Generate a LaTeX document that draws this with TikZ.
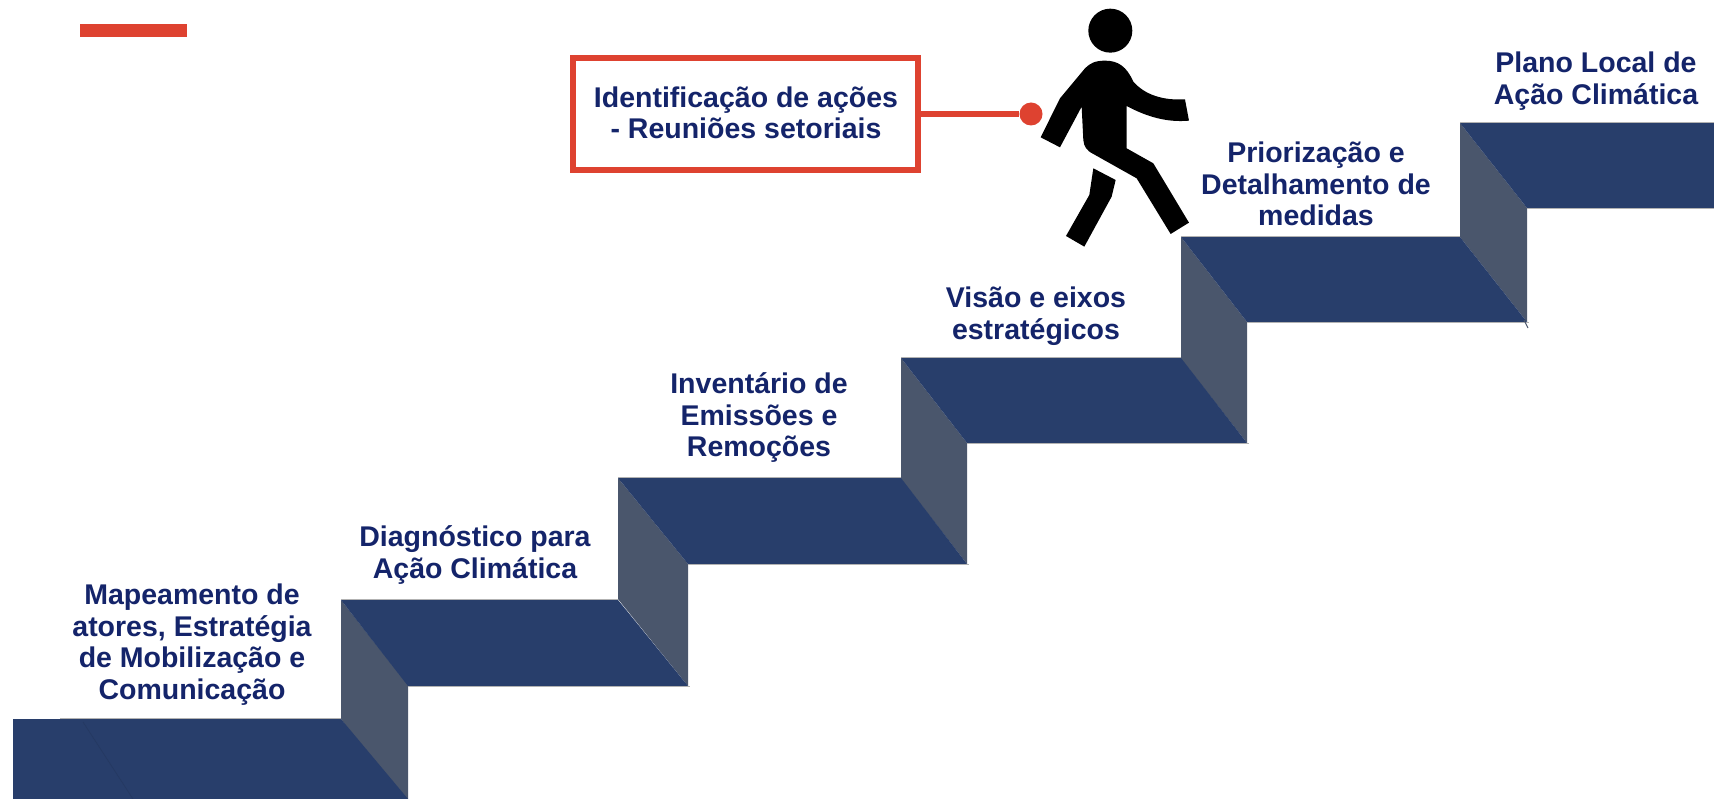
\documentclass[tikz,border=0pt]{standalone}
\usepackage{fontspec}
\setmainfont{Liberation Sans}
\definecolor{stepblue}{HTML}{283E6B}
\definecolor{riser}{HTML}{4A566C}
\definecolor{navy}{HTML}{14246A}
\definecolor{redc}{HTML}{DE4230}
\tikzset{
 tread/.style={fill=stepblue,draw=none},
 riserface/.style={fill=riser,draw=none},
 edgeline/.style={draw=black!30,line width=0.7pt},
 lbl/.style={font=\fontsize{28.5}{31.5}\selectfont\bfseries,text=navy,align=center,inner sep=0pt},
 redbox/.style={draw=redc,line width=6pt,minimum width=345pt,minimum height=112pt,inner sep=0pt,fill=white},
 reddot/.style={circle,fill=redc,minimum size=23pt,inner sep=0pt,draw=none},
 redline/.style={draw=redc,line width=5.5pt}
}
\begin{document}
\begin{tikzpicture}[x=1pt,y=-1pt]
\useasboundingbox (0,0) rectangle (1714,799);
\fill[white] (0,0) rectangle (1714,799);
% top bar
\fill[redc] (80,24) rectangle (187,37);
% risers
\fill[riserface] (341,719) -- (341,600) -- (408,685) -- (408,799) -- (400,799) -- cycle;
\fill[riserface] (618,599) -- (618,478) -- (688,564) -- (688,686) -- cycle;
\fill[riserface] (901,479) -- (901,358) -- (967,443) -- (967,564) -- cycle;
\fill[riserface] (1181,359) -- (1181,237) -- (1247,322) -- (1247,443) -- cycle;
\fill[riserface] (1460,237) -- (1460,123) -- (1527,208) -- (1527,322) -- cycle;
% treads
\fill[tread] (13,719) -- (341,719) -- (408,799) -- (13,799) -- cycle;
\fill[tread] (341,600) -- (618,600) -- (688,686) -- (408,686) -- cycle;
\fill[tread] (618,478) -- (901,478) -- (967,564) -- (688,564) -- cycle;
\fill[tread] (901,358) -- (1181,358) -- (1247,443) -- (967,443) -- cycle;
\fill[tread] (1181,237) -- (1460,237) -- (1527,322) -- (1247,322) -- cycle;
\fill[tread] (1460,123) -- (1714,123) -- (1714,208) -- (1527,208) -- cycle;
% thin edges
\draw[edgeline] (60,718.5) -- (341,718.5);
\draw[edgeline] (341,599.5) -- (618,599.5);
\draw[edgeline] (618,477.5) -- (901,477.5);
\draw[edgeline] (901,357.5) -- (1181,357.5);
\draw[edgeline] (1181,236.5) -- (1460,236.5);
\draw[edgeline] (1460,122.5) -- (1714,122.5);
\draw[edgeline] (408,686.5) -- (690,686.5);
\draw[edgeline] (688,564.5) -- (969,564.5);
\draw[edgeline] (967,443.5) -- (1249,443.5);
\draw[edgeline] (1247,322.5) -- (1529,322.5);
\draw[edgeline] (1527,208.5) -- (1714,208.5);
\draw[stepblue!92!black,line width=0.7pt] (83,722) -- (133,799);
\draw[riser,line width=1pt] (1524,320) -- (1528,328);
% person
\begin{scope}[shift={(950,0)},x=0.3333pt,y=-0.3333pt]
\fill[black] (481,92) circle (66);
\fill[black] (465,182) .. controls (435,182) and (420,190) .. (405,205)
  -- (330,295) -- (272,412) -- (330,442) -- (395,320)
  -- (400,420) .. controls (402,440) and (410,452) .. (430,462)
  -- (560,535) -- (662,702) -- (717,668) -- (610,490) -- (530,445) -- (530,318)
  .. controls (590,350) and (650,368) .. (717,362) -- (705,298)
  .. controls (640,302) and (585,285) .. (550,245)
  .. controls (530,200) and (505,182) .. (465,182) -- cycle;
\fill[black] (430,505) -- (497,540) -- (485,590) -- (403,740) -- (348,708) -- (418,585) -- cycle;
\end{scope}
% callout
\node[redbox] (box) at (745,114) {};
\node[lbl] (boxtext) at (746,113) {Identificação de ações\\- Reuniões setoriais};
\node[reddot] (dot) at (1031,114) {};
\draw[redline] (box.east) -- (dot.west);
% labels
\node[lbl] (l1) at (192,644.5) {Mapeamento de\\atores, Estratégia\\de Mobilização e\\Comunicação};
\node[lbl] (l2) at (475,555) {Diagnóstico para\\Ação Climática};
\node[lbl] (l3) at (759,418) {Inventário de\\Emissões e\\Remoções};
\node[lbl] (l4) at (1036,316) {Visão e eixos\\estratégicos};
\node[lbl] (l5) at (1316,184) {Priorização e\\Detalhamento de\\medidas};
\node[lbl] (l6) at (1596,81) {Plano Local de\\Ação Climática};
\end{tikzpicture}
\end{document}
